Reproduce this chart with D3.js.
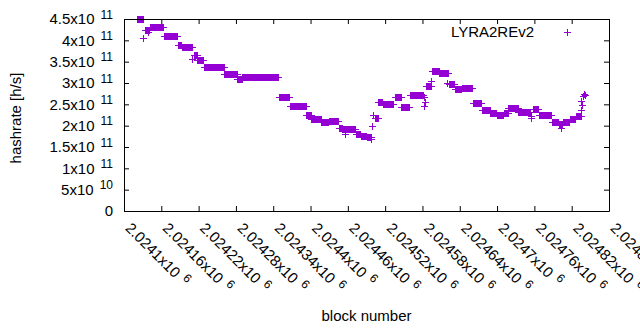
<!DOCTYPE html>
<html>
<head>
<meta charset="utf-8">
<script src="https://cdn.jsdelivr.net/npm/d3@7"></script>
<style>
  body { margin: 0; background: #fff; }
  svg text { font-family: "Liberation Sans", Arial, sans-serif; font-size: 15px; fill: #000; }
</style>
</head>
<body>
<svg id="chart" width="640" height="330"></svg>
<script>
// runs of consecutive blocks that share one hashrate value (x 1e11 h/s)
var runStart = [2024121, 2024134, 2024142, 2024165, 2024187, 2024194, 2024213, 2024219, 2024229, 2024262,
                2024283, 2024291, 2024350, 2024367, 2024394, 2024402, 2024418, 2024430, 2024446, 2024452,
                2024474, 2024482, 2024491, 2024504, 2024510, 2024517, 2024536, 2024547, 2024560, 2024587,
                2024596, 2024608, 2024623, 2024633, 2024644, 2024662, 2024676, 2024690, 2024700, 2024712,
                2024719, 2024735, 2024758, 2024768, 2024789, 2024800, 2024807, 2024818, 2024827];
var runEnd   = [2024131, 2024141, 2024164, 2024186, 2024193, 2024210, 2024218, 2024228, 2024261, 2024282,
                2024290, 2024349, 2024366, 2024393, 2024401, 2024417, 2024429, 2024445, 2024451, 2024473,
                2024481, 2024490, 2024498, 2024509, 2024516, 2024533, 2024546, 2024559, 2024581, 2024595,
                2024607, 2024622, 2024632, 2024643, 2024661, 2024675, 2024689, 2024699, 2024711, 2024718,
                2024734, 2024754, 2024767, 2024787, 2024799, 2024806, 2024817, 2024826, 2024835];
var runRate  = [4.50, 4.24, 4.30, 4.09, 3.88, 3.84, 3.65, 3.52, 3.37, 3.21,
                3.08, 3.13, 2.66, 2.46, 2.23, 2.15, 2.07, 2.10, 1.93, 1.90,
                1.80, 1.74, 1.72, 2.17, 2.55, 2.49, 2.66, 2.43, 2.71, 2.91,
                3.27, 3.23, 2.97, 2.84, 2.87, 2.52, 2.35, 2.29, 2.25, 2.29,
                2.40, 2.30, 2.38, 2.25, 2.07, 2.02, 2.07, 2.15, 2.22];

// single blocks that stand off their run
var loneBlock = [2024132, 2024140, 2024210, 2024456, 2024498, 2024499, 2024502, 2024583, 2024584, 2024585,
                 2024595, 2024621, 2024755, 2024756, 2024803, 2024835, 2024836, 2024838, 2024839, 2024841, 2024842];
var loneRate  = [4.05, 4.19, 3.56, 1.80, 1.68, 1.98, 2.25, 2.44, 2.66, 2.54,
                 3.03, 2.98, 2.21, 2.17, 1.94, 2.56, 2.35, 2.47, 2.68, 2.73, 2.70];

var seriesName = "LYRA2REv2";

var xTicks = [2024100, 2024160, 2024220, 2024280, 2024340, 2024400, 2024460,
              2024520, 2024580, 2024640, 2024700, 2024760, 2024820, 2024880];
var xTickText = ["2.0241", "2.02416", "2.02422", "2.02428", "2.02434", "2.0244", "2.02446",
                 "2.02452", "2.02458", "2.02464", "2.0247", "2.02476", "2.02482", "2.02488"];
var xTickExp = "6";

var yTicks = [0, 5e10, 1e11, 1.5e11, 2e11, 2.5e11, 3e11, 3.5e11, 4e11, 4.5e11];
var yTickText = ["0", "5", "1", "1.5", "2", "2.5", "3", "3.5", "4", "4.5"];
var yTickExp = ["", "10", "11", "11", "11", "11", "11", "11", "11", "11"];

var svg = d3.select("#chart"),
    margin = {top: 19, right: 31, bottom: 119, left: 124},
    width = +svg.attr("width") - margin.left - margin.right,
    height = +svg.attr("height") - margin.top - margin.bottom;

var color = "#9400d3";

var x = d3.scaleLinear().domain([2024100, 2024880]).range([0, width]),
    y = d3.scaleLinear().domain([0, 4.5e11]).range([height, 0]);

var g = svg.append("g")
    .attr("transform", "translate(" + margin.left + "," + margin.top + ")");

// expand the runs into one point per block
var points = [];
runStart.forEach(function(s, i) {
  for (var b = s; b <= runEnd[i]; b++) points.push({block: b, rate: runRate[i] * 1e11});
});
loneBlock.forEach(function(b, i) {
  points.push({block: b, rate: loneRate[i] * 1e11});
});

var plus = "M-3.5,0H3.5M0,-3.5V3.5";

g.append("g")
    .attr("shape-rendering", "crispEdges")
  .selectAll("path")
  .data(points)
  .enter()
  .append("path")
    .attr("d", plus)
    .attr("transform", function(d) { return "translate(" + x(d.block) + "," + y(d.rate) + ")"; })
    .attr("fill", "none")
    .attr("stroke", color)
    .attr("stroke-width", 1);

// axes, ticks pointing inward like gnuplot
var xAxis = g.append("g")
    .attr("transform", "translate(0," + height + ")")
    .call(d3.axisBottom(x).tickValues(xTicks).tickSize(-5).tickSizeOuter(0));

xAxis.selectAll(".tick text")
    .attr("x", null).attr("y", null).attr("dy", null)
    .attr("text-anchor", "start")
    .attr("transform", "translate(0,18) rotate(45)")
    .text(null)
    .each(function(d, i) {
      var t = d3.select(this);
      t.append("tspan").text(xTickText[i] + "x10");
      t.append("tspan").attr("dx", 6).attr("dy", -5.7).style("font-size", "12px").text(xTickExp);
    });

var yAxis = g.append("g")
    .call(d3.axisLeft(y).tickValues(yTicks).tickSize(-5).tickSizeOuter(0).tickPadding(11));

yAxis.selectAll(".tick text")
    .attr("dy", 4.8)
    .text(null)
    .each(function(d, i) {
      var t = d3.select(this);
      if (yTickExp[i] === "") { t.text(yTickText[i]); return; }
      t.append("tspan").text(yTickText[i] + "x10");
      t.append("tspan").attr("dx", 6).attr("dy", -5.7).style("font-size", "12px").text(yTickExp[i]);
    });

g.append("g")
    .call(d3.axisTop(x).tickValues(xTicks).tickSize(-5).tickSizeOuter(0).tickFormat(""));

g.append("g")
    .attr("transform", "translate(" + width + ",0)")
    .call(d3.axisRight(y).tickValues(yTicks).tickSize(-5).tickSizeOuter(0).tickFormat(""));

g.selectAll(".domain").attr("stroke", "#000");
g.selectAll(".tick line").attr("stroke", "#000");
g.selectAll("text").attr("fill", "#000").attr("font-size", null).attr("font-family", null);
g.selectAll(".tick text tspan[dx]").style("font-size", "12px");

// axis titles
g.append("text")
    .attr("x", width / 2)
    .attr("y", 320.7 - margin.top)
    .attr("text-anchor", "middle")
    .text("block number");

svg.append("text")
    .attr("transform", "translate(21,118) rotate(-90)")
    .attr("text-anchor", "middle")
    .text("hashrate [h/s]");

// key
svg.append("text")
    .attr("x", 534)
    .attr("y", 37.3)
    .attr("text-anchor", "end")
    .text(seriesName);

svg.append("path")
    .attr("d", plus)
    .attr("transform", "translate(567,32.7)")
    .attr("fill", "none")
    .attr("stroke", color)
    .attr("shape-rendering", "crispEdges");
</script>
</body>
</html>
